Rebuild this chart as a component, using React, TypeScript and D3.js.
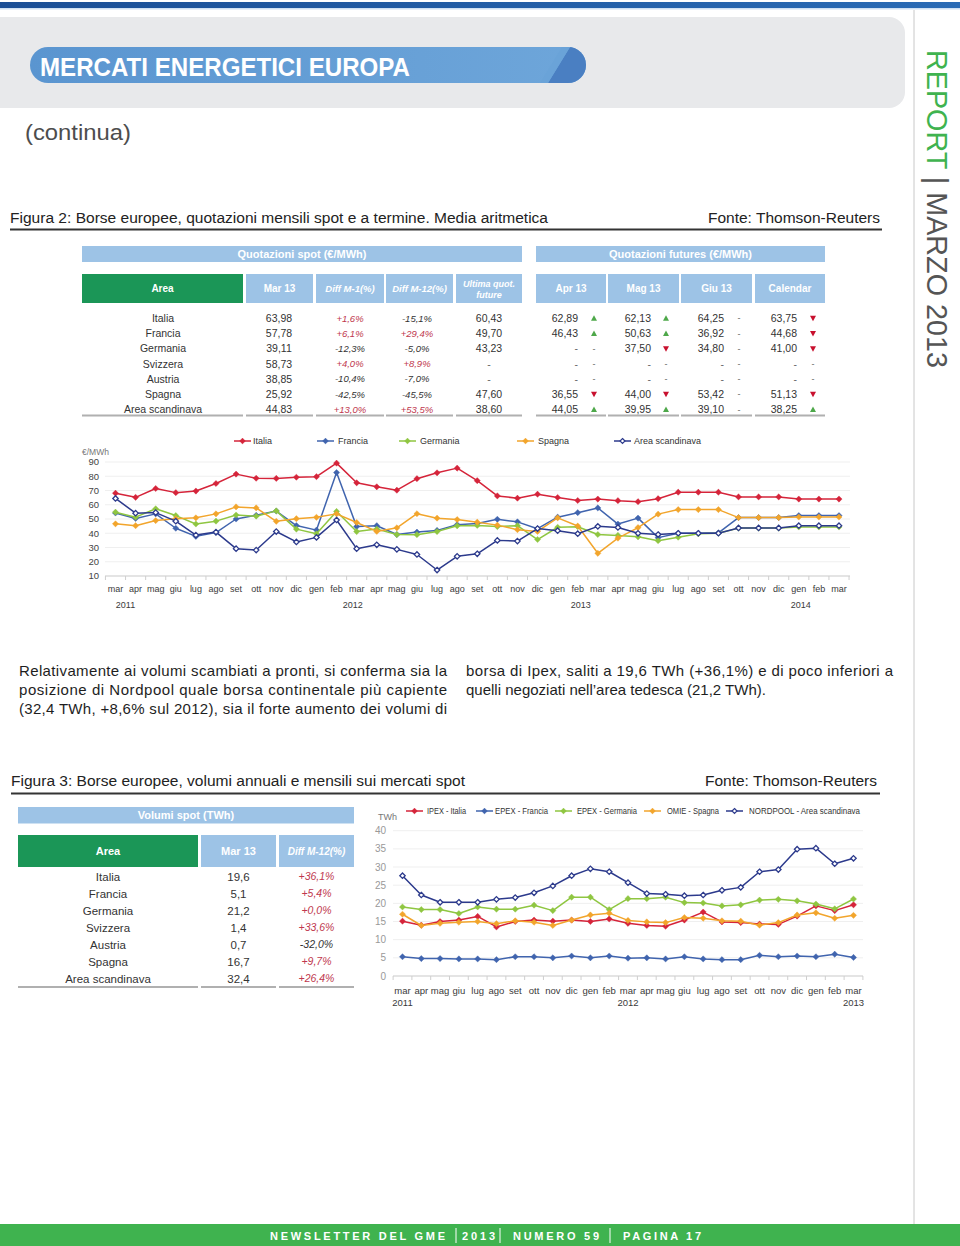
import React from 'react';
import * as d3 from 'd3';

const SANS = "'Liberation Sans', Arial, Helvetica, sans-serif";

// ---------------- Figure 2: table ----------------
const areas = ['Italia', 'Francia', 'Germania', 'Svizzera', 'Austria', 'Spagna', 'Area scandinava'];
const spotMar13 = ['63,98', '57,78', '39,11', '58,73', '38,85', '25,92', '44,83'];
const diffM1 = ['+1,6%', '+6,1%', '-12,3%', '+4,0%', '-10,4%', '-42,5%', '+13,0%'];
const diffM12 = ['-15,1%', '+29,4%', '-5,0%', '+8,9%', '-7,0%', '-45,5%', '+53,5%'];
const lastFuture = ['60,43', '49,70', '43,23', '-', '-', '47,60', '38,60'];
const futApr = ['62,89', '46,43', '-', '-', '-', '36,55', '44,05'];
const trendApr = ['up', 'up', '-', '-', '-', 'down', 'up'];
const futMag = ['62,13', '50,63', '37,50', '-', '-', '44,00', '39,95'];
const trendMag = ['up', 'up', 'down', '-', '-', 'down', 'up'];
const futGiu = ['64,25', '36,92', '34,80', '-', '-', '53,42', '39,10'];
const trendGiu = ['-', '-', '-', '-', '-', '-', '-'];
const futCal = ['63,75', '44,68', '41,00', '-', '-', '51,13', '38,25'];
const trendCal = ['down', 'down', 'down', '-', '-', 'down', 'up'];

// ---------------- Figure 2: chart (€/MWh) ----------------
const months1 = ['mar', 'apr', 'mag', 'giu', 'lug', 'ago', 'set', 'ott', 'nov', 'dic', 'gen', 'feb',
  'mar', 'apr', 'mag', 'giu', 'lug', 'ago', 'set', 'ott', 'nov', 'dic', 'gen', 'feb',
  'mar', 'apr', 'mag', 'giu', 'lug', 'ago', 'set', 'ott', 'nov', 'dic', 'gen', 'feb', 'mar'];
const years1 = ['2011', '2012', '2013', '2014'];
const years1At = [0.5, 11.8, 23.15, 34.1];
const yTicks1 = [10, 20, 30, 40, 50, 60, 70, 80, 90];
const italia1 = [68.1, 65.2, 71.4, 68.5, 69.6, 74.9, 81.5, 78.6, 78.5, 79.3, 79.7, 89.2, 75.4, 72.6, 70.2, 78.3, 82.4, 85.7, 76.9, 66.2, 64.6, 67.4, 65.1, 62.97, 63.98, 62.89, 62.13, 64.25, 68.8, 68.8, 68.8, 65.5, 65.5, 65.5, 64.0, 64.0, 64.0];
const francia1 = [54.2, 50.4, 53.6, 43.5, 37.8, 40.5, 50.0, 52.6, 55.6, 45.4, 42.2, 82.6, 44.65, 45.3, 39.1, 40.8, 42.0, 46.0, 46.9, 49.8, 48.0, 43.2, 51.3, 54.46, 57.78, 46.43, 50.63, 36.92, 40.0, 40.0, 40.3, 51.0, 51.0, 51.0, 52.4, 52.4, 52.4];
const germania1 = [54.8, 51.3, 57.2, 52.4, 46.5, 48.5, 52.8, 52.0, 55.7, 42.9, 39.6, 55.3, 41.17, 42.9, 39.1, 39.0, 41.2, 45.2, 45.5, 44.7, 45.3, 35.6, 44.2, 44.6, 39.11, 38.5, 37.5, 34.8, 37.2, 39.6, 40.0, 43.6, 43.6, 43.6, 44.4, 44.4, 44.4];
const spagna1 = [46.6, 45.3, 48.9, 50.2, 50.8, 53.6, 58.5, 57.8, 48.4, 50.2, 51.2, 53.6, 47.56, 41.3, 43.8, 53.7, 50.6, 49.6, 47.8, 45.7, 42.5, 41.3, 50.8, 45.08, 25.92, 36.55, 44.0, 53.42, 56.6, 56.6, 56.6, 51.0, 51.0, 51.0, 51.4, 51.4, 51.4];
const scand1 = [64.4, 54.1, 54.5, 48.5, 38.7, 40.8, 29.2, 28.2, 41.2, 33.9, 37.1, 49.3, 29.2, 31.9, 28.7, 25.1, 14.2, 23.8, 25.6, 35.0, 34.5, 43.3, 41.8, 39.67, 44.83, 44.05, 39.95, 39.10, 40.0, 40.0, 40.0, 43.7, 43.7, 43.7, 45.3, 45.3, 45.3];
const legend1 = ['Italia', 'Francia', 'Germania', 'Spagna', 'Area scandinava'];

// ---------------- Figure 3: table ----------------
const volMar13 = ['19,6', '5,1', '21,2', '1,4', '0,7', '16,7', '32,4'];
const volDiffM12 = ['+36,1%', '+5,4%', '+0,0%', '+33,6%', '-32,0%', '+9,7%', '+26,4%'];

// ---------------- Figure 3: chart (TWh) ----------------
const months2 = ['mar', 'apr', 'mag', 'giu', 'lug', 'ago', 'set', 'ott', 'nov', 'dic', 'gen', 'feb',
  'mar', 'apr', 'mag', 'giu', 'lug', 'ago', 'set', 'ott', 'nov', 'dic', 'gen', 'feb', 'mar'];
const years2 = ['2011', '2012', '2013'];
const years2At = [0, 12, 24];
const yTicks2 = [0, 5, 10, 15, 20, 25, 30, 35, 40];
const italia2 = [15.1, 14.0, 15.0, 15.4, 16.4, 13.5, 15.0, 15.4, 15.1, 15.4, 15.0, 15.7, 14.5, 13.9, 13.7, 15.4, 17.6, 14.9, 14.7, 14.3, 14.2, 16.5, 19.3, 18.0, 19.6];
const francia2 = [5.3, 4.8, 4.8, 4.7, 4.7, 4.5, 5.3, 5.3, 5.0, 5.5, 5.0, 5.5, 4.9, 5.0, 4.7, 5.3, 4.7, 4.5, 4.5, 5.7, 5.3, 5.5, 5.3, 6.0, 5.1];
const germania2 = [19.0, 18.3, 18.3, 17.2, 19.0, 18.4, 18.4, 19.5, 18.0, 21.7, 21.7, 18.3, 21.3, 21.3, 21.7, 20.2, 20.1, 19.3, 19.6, 20.9, 21.1, 20.7, 19.8, 18.5, 21.2];
const spagna2 = [17.0, 13.9, 14.5, 14.8, 15.0, 14.4, 15.2, 14.8, 13.9, 15.4, 16.8, 17.3, 15.3, 14.9, 14.7, 16.1, 15.9, 15.2, 15.1, 14.0, 14.7, 16.8, 17.4, 15.9, 16.7];
const scand2 = [27.6, 22.3, 20.3, 20.3, 20.3, 21.1, 21.6, 22.9, 24.8, 27.6, 29.5, 28.7, 25.7, 22.7, 22.5, 22.1, 22.3, 23.6, 24.4, 28.7, 29.3, 34.9, 35.2, 30.9, 32.4];
const legend2 = ['IPEX - Italia', 'EPEX - Francia', 'EPEX - Germania', 'OMIE - Spagna', 'NORDPOOL - Area scandinava'];

// ---------------- text ----------------
const paraLeft = [
  'Relativamente ai volumi scambiati a pronti, si conferma sia la',
  'posizione di Nordpool quale borsa continentale più capiente',
  '(32,4 TWh, +8,6% sul 2012), sia il forte aumento dei volumi di',
];
const paraRight = [
  'borsa di Ipex, saliti a 19,6 TWh (+36,1%) e di poco inferiori a',
  'quelli negoziati nell\u2019area tedesca (21,2 TWh).',
];

const COLORS = ['#d5243a', '#4064ae', '#8fc641', '#f2a52c', '#2c3a8c'];
const HOLLOW = [false, false, false, false, true];

const diamond = (r: number) => `M0,${-r}L${r},0L0,${r}L${-r},0Z`;

type ChartProps = {
  values: number[][];
  months: string[];
  years: string[];
  yearsAt: number[];
  yTicks: number[];
  xRange: [number, number];
  yDomain: [number, number];
  yRange: [number, number];
  gridX: [number, number];
  yLabelX: number;
  monthY: number;
  yearY: number;
  tickFont: number;
  tickColor: string;
  monthFont: number;
  yearAnchor?: ('start' | 'middle' | 'end')[];
};

function LineChart(p: ChartProps) {
  const n = p.months.length;
  const x = d3.scalePoint<number>().domain(d3.range(n)).range(p.xRange);
  const step = x.step();
  const y = d3.scaleLinear().domain(p.yDomain).range(p.yRange);
  const line = d3.line<number>().x((_, i) => x(i) as number).y((d) => y(d));
  const base = y(p.yDomain[0]);
  const xAt = (pos: number) => (x(0) as number) + pos * step;
  return (
    <g fontFamily={SANS}>
      {p.yTicks.map((t) => (
        <g key={t}>
          <line x1={p.gridX[0]} x2={p.gridX[1]} y1={y(t)} y2={y(t)}
            stroke={t === p.yDomain[0] ? '#c9c9c9' : '#efefef'} strokeWidth={1} />
          <text x={p.yLabelX} y={y(t)} dy="0.35em" textAnchor="end" fontSize={p.tickFont} fill={p.tickColor}>{t}</text>
        </g>
      ))}
      {d3.range(n + 1).map((i) => {
        const xx = (x(0) as number) + (i - 0.5) * step;
        return <line key={i} x1={xx} x2={xx} y1={base} y2={base + 4} stroke="#cfcfcf" />;
      })}
      {p.months.map((m, i) => (
        <text key={i} x={x(i)} y={p.monthY} textAnchor="middle" fontSize={p.monthFont} fill="#3a3a3a">{m}</text>
      ))}
      {p.years.map((yy, i) => (
        <text key={yy} x={xAt(p.yearsAt[i])} y={p.yearY} textAnchor={p.yearAnchor ? p.yearAnchor[i] : 'middle'}
          fontSize={p.monthFont} fill="#3a3a3a">{yy}</text>
      ))}
      {p.values.map((vals, si) => (
        <g key={si}>
          <path d={line(vals) as string} fill="none" stroke={COLORS[si]} strokeWidth={1.5} strokeLinejoin="round" />
          {vals.map((v, i) => (
            <path key={i} d={diamond(HOLLOW[si] ? 2.7 : 3.1)} transform={`translate(${x(i)},${y(v)})`}
              fill={HOLLOW[si] ? '#ffffff' : COLORS[si]} stroke={COLORS[si]} strokeWidth={HOLLOW[si] ? 1.3 : 0.4} />
          ))}
        </g>
      ))}
    </g>
  );
}

function Legend({ labels, lineX, textX, y, fontSize, widths }: { labels: string[]; lineX: number[]; textX: number[]; y: number; fontSize: number; widths?: number[] }) {
  return (
    <g fontFamily={SANS}>
      {labels.map((l, i) => (
        <g key={l}>
          <line x1={lineX[i]} x2={lineX[i] + 17} y1={y} y2={y} stroke={COLORS[i]} strokeWidth={1.5} />
          <path d={diamond(HOLLOW[i] ? 2.5 : 2.9)} transform={`translate(${lineX[i] + 8.5},${y})`}
            fill={HOLLOW[i] ? '#fff' : COLORS[i]} stroke={COLORS[i]} strokeWidth={HOLLOW[i] ? 1.2 : 0.4} />
          <text x={textX[i]} y={y} dy="0.35em" fontSize={fontSize} fill="#333"
            {...(widths ? { textLength: widths[i], lengthAdjust: 'spacingAndGlyphs' } : {})}>{l}</text>
        </g>
      ))}
    </g>
  );
}

function Tri({ x, y, dir }: { x: number; y: number; dir: string }) {
  if (dir === 'up') return <path d={`M${x - 3},${y + 2.5}L${x + 3},${y + 2.5}L${x},${y - 3}Z`} fill="#4ea84a" />;
  if (dir === 'down') return <path d={`M${x - 3},${y - 2.5}L${x + 3},${y - 2.5}L${x},${y + 3}Z`} fill="#c8102e" />;
  return <text x={x} y={y} dy="0.35em" textAnchor="middle" fontSize={9} fill="#666">-</text>;
}

const POS = '#c0384e';

export default function App() {
  const LIGHT = '#9dc3e6';
  const GREEN = '#1b9657';
  const rowY1 = (i: number) => 318.3 + i * 15.2;
  const rowY2 = (i: number) => 876.7 + i * 17;
  const futCols = [
    { vals: futApr, tr: trendApr, vx: 578, tx: 594 },
    { vals: futMag, tr: trendMag, vx: 651, tx: 666 },
    { vals: futGiu, tr: trendGiu, vx: 724, tx: 739 },
    { vals: futCal, tr: trendCal, vx: 797, tx: 813 },
  ];
  const diffColor = (s: string) => (s.startsWith('+') ? POS : '#333');

  return (
    <svg width={960} height={1246} viewBox="0 0 960 1246"
      style={{ position: 'absolute', left: 0, top: 0, display: 'block', background: '#fff' }}>
      <defs>
        <linearGradient id="topbar" x1="0" x2="1" y1="0" y2="0">
          <stop offset="0" stopColor="#1b4f96" />
          <stop offset="1" stopColor="#2a6bb5" />
        </linearGradient>
        <linearGradient id="pill" x1="0" x2="1" y1="0" y2="0">
          <stop offset="0" stopColor="#5a95d0" />
          <stop offset="1" stopColor="#6ea6da" />
        </linearGradient>
        <clipPath id="pillClip">
          <rect x={30} y={47} width={556} height={36} rx={18} />
        </clipPath>
      </defs>

      {/* top bar */}
      <rect x={0} y={2} width={960} height={6} fill="url(#topbar)" />
      <rect x={0} y={8} width={960} height={1.5} fill="#cfe0f2" />

      {/* grey header panel */}
      <rect x={-30} y={17} width={935} height={91} rx={16} fill="#e8e9eb" />
      <g clipPath="url(#pillClip)">
        <rect x={30} y={47} width={556} height={36} fill="url(#pill)" />
        <path d="M548,83L570,47L586,47L586,83Z" fill="#4a7fc2" />
        <path d="M540,83L562,47L570,47L548,83Z" fill="#6aa3d8" />
      </g>
      <text x={40} y={75.5} fontFamily={SANS} fontWeight="bold" fontSize={25} fill="#fff"
        textLength={370} lengthAdjust="spacingAndGlyphs">MERCATI ENERGETICI EUROPA</text>
      <text x={25} y={139.5} fontFamily={SANS} fontSize={22} fill="#4d4d4d"
        textLength={106} lengthAdjust="spacingAndGlyphs">(continua)</text>

      {/* right side */}
      <line x1={914} x2={914} y1={10} y2={1246} stroke="#c8c8c8" strokeWidth={1} />
      <text transform="translate(927,50) rotate(90)" fontFamily={SANS} fontSize={30} textLength={318} lengthAdjust="spacingAndGlyphs">
        <tspan fill="#3fb34f">REPORT </tspan>
        <tspan fill="#555">| </tspan>
        <tspan fill="#555">MARZO 2013</tspan>
      </text>

      {/* Figure 2 caption */}
      <text x={10} y={222.5} fontFamily={SANS} fontSize={15.5} fill="#222" textLength={538} lengthAdjust="spacingAndGlyphs">
        Figura 2: Borse europee, quotazioni mensili spot e a termine. Media aritmetica
      </text>
      <text x={880} y={222.5} fontFamily={SANS} fontSize={15.5} fill="#222" textAnchor="end">Fonte: Thomson-Reuters</text>
      <line x1={10} x2={882} y1={229.5} y2={229.5} stroke="#333" strokeWidth={2} />

      {/* Figure 2 table */}
      <g fontFamily={SANS}>
        <rect x={82} y={246} width={440} height={16} fill={LIGHT} />
        <text x={302} y={254} dy="0.35em" textAnchor="middle" fontSize={11} fontWeight="bold" fill="#fff">Quotazioni spot (€/MWh)</text>
        <rect x={536} y={246} width={289} height={16} fill={LIGHT} />
        <text x={680.5} y={254} dy="0.35em" textAnchor="middle" fontSize={11} fontWeight="bold" fill="#fff">Quotazioni futures (€/MWh)</text>

        <rect x={82} y={274} width={161} height={29} fill={GREEN} />
        <text x={162.5} y={288.5} dy="0.35em" textAnchor="middle" fontSize={10} fontWeight="bold" fill="#fff">Area</text>
        <rect x={246} y={274} width={67} height={29} fill={LIGHT} />
        <text x={279.5} y={288.5} dy="0.35em" textAnchor="middle" fontSize={10} fontWeight="bold" fill="#fff">Mar 13</text>
        <rect x={316} y={274} width={68} height={29} fill={LIGHT} />
        <text x={350} y={288.5} dy="0.35em" textAnchor="middle" fontSize={9.5} fontWeight="bold" fontStyle="italic" fill="#fff">Diff M-1(%)</text>
        <rect x={386} y={274} width={67} height={29} fill={LIGHT} />
        <text x={419.5} y={288.5} dy="0.35em" textAnchor="middle" fontSize={9.5} fontWeight="bold" fontStyle="italic" fill="#fff">Diff M-12(%)</text>
        <rect x={456} y={274} width={66} height={29} fill={LIGHT} />
        <text x={489} y={284} dy="0.35em" textAnchor="middle" fontSize={9} fontWeight="bold" fontStyle="italic" fill="#fff">Ultima quot.</text>
        <text x={489} y={295} dy="0.35em" textAnchor="middle" fontSize={9} fontWeight="bold" fontStyle="italic" fill="#fff">future</text>

        {[['Apr 13', 536, 70], ['Mag 13', 608, 71], ['Giu 13', 681, 71], ['Calendar', 755, 70]].map(([l, x0, w]) => (
          <g key={l as string}>
            <rect x={x0 as number} y={274} width={w as number} height={29} fill={LIGHT} />
            <text x={(x0 as number) + (w as number) / 2} y={288.5} dy="0.35em" textAnchor="middle" fontSize={10} fontWeight="bold" fill="#fff">{l}</text>
          </g>
        ))}

        {areas.map((a, i) => (
          <g key={a} fontSize={10.5}>
            <text x={163} y={rowY1(i)} dy="0.35em" textAnchor="middle" fill="#333">{a}</text>
            <text x={279} y={rowY1(i)} dy="0.35em" textAnchor="middle" fill="#333">{spotMar13[i]}</text>
            <text x={350} y={rowY1(i)} dy="0.35em" textAnchor="middle" fontStyle="italic" fontSize={9.5} fill={diffColor(diffM1[i])}>{diffM1[i]}</text>
            <text x={417} y={rowY1(i)} dy="0.35em" textAnchor="middle" fontStyle="italic" fontSize={9.5} fill={diffColor(diffM12[i])}>{diffM12[i]}</text>
            <text x={489} y={rowY1(i)} dy="0.35em" textAnchor="middle" fill={lastFuture[i] === '-' ? '#666' : '#333'}>{lastFuture[i]}</text>
            {futCols.map((c, ci) => (
              <g key={ci}>
                <text x={c.vx} y={rowY1(i)} dy="0.35em" textAnchor="end" fill={c.vals[i] === '-' ? '#666' : '#333'}>{c.vals[i]}</text>
                <Tri x={c.tx} y={rowY1(i)} dir={c.tr[i]} />
              </g>
            ))}
          </g>
        ))}
        {[[82, 243], [246, 313], [316, 384], [386, 453], [456, 522], [536, 606], [608, 679], [681, 752], [755, 825]].map(([a, b]) => (
          <line key={a} x1={a} x2={b} y1={415.5} y2={415.5} stroke="#b0b0b0" strokeWidth={2} />
        ))}
      </g>

      {/* Figure 2 chart */}
      <Legend labels={legend1} lineX={[234, 317, 399, 517, 614]} textX={[253, 338, 420, 538, 634]} y={441} fontSize={9} />
      <text x={82} y={455} fontFamily={SANS} fontSize={8.5} fill="#777">€/MWh</text>
      <LineChart values={[italia1, francia1, germania1, spagna1, scand1]} months={months1} years={years1} yearsAt={years1At}
        yTicks={yTicks1} xRange={[115.5, 839]} yDomain={[10, 90]} yRange={[576, 462]} gridX={[105, 850]}
        yLabelX={99} monthY={592} yearY={608} tickFont={9.5} tickColor="#444" monthFont={9} />

      {/* paragraph */}
      <g fontFamily={SANS} fontSize={15} fill="#1e1e1e">
        {paraLeft.map((l, i) => (
          <text key={i} x={19} y={675.5 + i * 19} textLength={428} lengthAdjust="spacing">{l}</text>
        ))}
        {paraRight.map((l, i) => (
          <text key={i} x={466} y={675.5 + i * 19} {...(i === 0 ? { textLength: 427, lengthAdjust: 'spacing' } : {})}>{l}</text>
        ))}
      </g>

      {/* Figure 3 caption */}
      <text x={11} y={785.5} fontFamily={SANS} fontSize={15.5} fill="#222" textLength={454} lengthAdjust="spacingAndGlyphs">
        Figura 3: Borse europee, volumi annuali e mensili sui mercati spot
      </text>
      <text x={877} y={785.5} fontFamily={SANS} fontSize={15.5} fill="#222" textAnchor="end">Fonte: Thomson-Reuters</text>
      <line x1={11} x2={880} y1={793.5} y2={793.5} stroke="#333" strokeWidth={2} />

      {/* Figure 3 table */}
      <g fontFamily={SANS}>
        <rect x={18} y={807} width={336} height={16.5} fill={LIGHT} />
        <text x={186} y={815.3} dy="0.35em" textAnchor="middle" fontSize={11} fontWeight="bold" fill="#fff">Volumi spot (TWh)</text>
        <rect x={18} y={835} width={180} height={32} fill={GREEN} />
        <text x={108} y={851} dy="0.35em" textAnchor="middle" fontSize={11} fontWeight="bold" fill="#fff">Area</text>
        <rect x={201} y={835} width={75} height={32} fill={LIGHT} />
        <text x={238.5} y={851} dy="0.35em" textAnchor="middle" fontSize={11} fontWeight="bold" fill="#fff">Mar 13</text>
        <rect x={279} y={835} width={75} height={32} fill={LIGHT} />
        <text x={316.5} y={851} dy="0.35em" textAnchor="middle" fontSize={10} fontWeight="bold" fontStyle="italic" fill="#fff">Diff M-12(%)</text>
        {areas.map((a, i) => (
          <g key={a}>
            <text x={108} y={rowY2(i)} dy="0.35em" textAnchor="middle" fontSize={11.5} fill="#333">{a}</text>
            <text x={238.5} y={rowY2(i)} dy="0.35em" textAnchor="middle" fontSize={11.5} fill="#333">{volMar13[i]}</text>
            <text x={316.5} y={rowY2(i)} dy="0.35em" textAnchor="middle" fontSize={10.5} fontStyle="italic" fill={diffColor(volDiffM12[i])}>{volDiffM12[i]}</text>
          </g>
        ))}
        {[[18, 198], [201, 276], [279, 354]].map(([a, b]) => (
          <line key={a} x1={a} x2={b} y1={987} y2={987} stroke="#b0b0b0" strokeWidth={2} />
        ))}
      </g>

      {/* Figure 3 chart */}
      <Legend labels={legend2} lineX={[406, 476, 555, 644, 726]} textX={[427, 495, 577, 667, 749]} y={811} fontSize={8.5}
        widths={[39, 53, 60, 52, 111]} />
      <text x={378} y={820} fontFamily={SANS} fontSize={9} fill="#777">TWh</text>
      <LineChart values={[italia2, francia2, germania2, spagna2, scand2]} months={months2} years={years2} yearsAt={years2At}
        yTicks={yTicks2} xRange={[402.5, 853.5]} yDomain={[0, 40]} yRange={[976, 830.7]} gridX={[393, 863]}
        yLabelX={386} monthY={994} yearY={1006} tickFont={10} tickColor="#999" monthFont={9.5}
        yearAnchor={['middle', 'middle', 'middle']} />

      {/* footer */}
      <rect x={0} y={1224} width={960} height={22} fill="#3fb34f" />
      <g fontFamily={SANS} fontWeight="bold" fontSize={11} fill="#fff">
        <text x={270} y={1240} textLength={175} lengthAdjust="spacing">NEWSLETTER DEL GME</text>
        <text x={462} y={1240} textLength={33} lengthAdjust="spacing">2013</text>
        <text x={513} y={1240} textLength={86} lengthAdjust="spacing">NUMERO 59</text>
        <text x={623} y={1240} textLength={78} lengthAdjust="spacing">PAGINA 17</text>
      </g>
      {[456, 500, 610].map((xx) => (
        <line key={xx} x1={xx} x2={xx} y1={1228} y2={1243} stroke="#fff" strokeWidth={1} />
      ))}
    </svg>
  );
}
